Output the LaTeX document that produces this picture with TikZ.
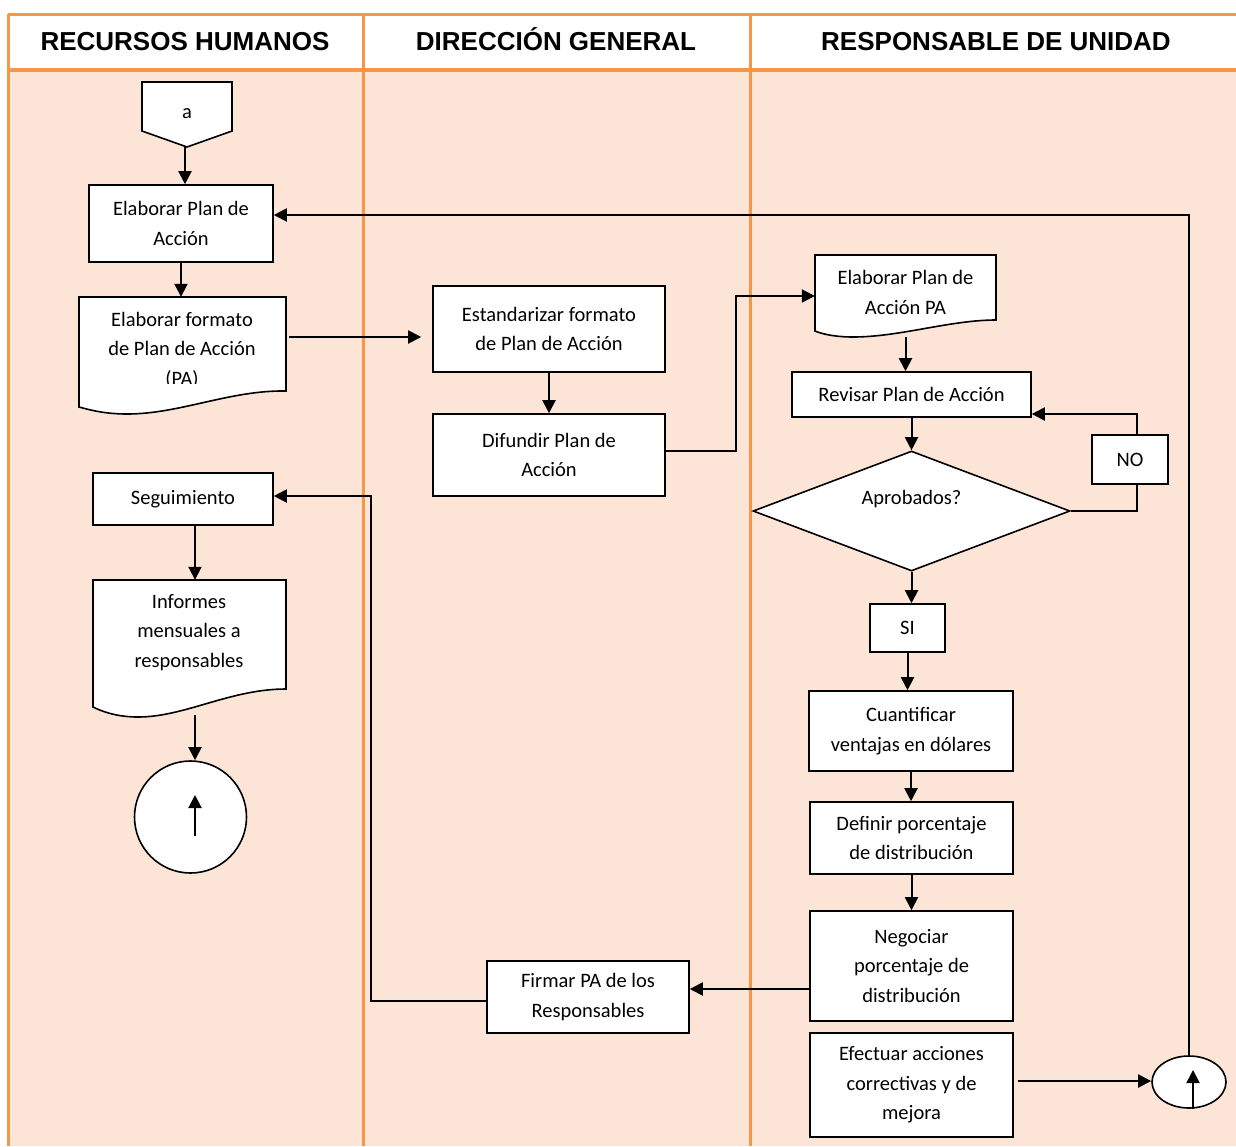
\documentclass[tikz,border=0pt]{standalone}
\usepackage{fontspec}
\setmainfont{Carlito}
\newfontfamily\hdrfont{Liberation Sans}
\usetikzlibrary{arrows.meta,shapes.geometric}
\definecolor{laneorange}{RGB}{247,150,70}
\definecolor{lanefill}{RGB}{252,228,214}
\begin{document}
\begin{tikzpicture}[x=1pt,y=-1pt,
  bodyfont/.style={font=\fontsize{20.5pt}{29.5pt}\selectfont},
  txt/.style={bodyfont,align=center,inner sep=0pt},
  proc/.style={txt,draw=black,line width=1.6pt,fill=white},
  outline/.style={draw=black,line width=1.6pt,fill=white,line join=miter},
  ghost/.style={draw=none,fill=none,inner sep=0pt},
  hdr/.style={font=\hdrfont\bfseries\fontsize{26pt}{30pt}\selectfont,inner sep=0pt,anchor=base},
  lane/.style={draw=laneorange,line width=3pt},
  ln/.style={draw=black,line width=2pt},
  arr/.style={ln,-{Triangle[length=13pt,width=13pt]}}
]
\useasboundingbox (0,0) rectangle (1236,1146);

% swimlane frame
\fill[white] (8,14) rectangle (1236,70);
\fill[lanefill] (8,70) rectangle (1236,1146);
\draw[lane] (8,14) -- (1236,14);
\draw[lane,line width=4pt] (8,70) -- (1236,70);
\draw[lane] (8,14) -- (8,1146);
\draw[lane] (363,14) -- (363,1146);
\draw[lane] (750,14) -- (750,1146);

\node[hdr] (h1) at (185,50) {RECURSOS HUMANOS};
\node[hdr] (h2) at (556,50) {DIRECCIÓN GENERAL};
\node[hdr] (h3) at (996,50) {RESPONSABLE DE UNIDAD};

% ---- Recursos Humanos ----
\draw[outline] (142,82) -- (232,82) -- (232,131) -- (187,147) -- (142,131) -- cycle;
\node[txt] (aconn) at (187,114) {a};
\coordinate (apex) at (185,147);

\node[proc,minimum width=184pt,minimum height=77pt] (ep) at (181,223.5) {Elaborar Plan de\\Acción};

\draw[outline] (79,297) -- (286,297) -- (286,391)
  .. controls (230,390) and (180,414) .. (127,414)
  .. controls (105,414) and (90,410) .. (79,407) -- cycle;
\node[ghost,minimum width=207pt,minimum height=117pt] (efp) at (182.5,355.5) {};
\begin{scope}
  \clip (79,297) rectangle (286,383);
  \node[txt] (efptxt) at (182,350) {Elaborar formato\\de Plan de Acción\\(PA)};
\end{scope}

\node[proc,minimum width=180pt,minimum height=52pt] (seg) at (183,499) {Seguimiento};

\draw[outline] (93,580) -- (286,580) -- (286,689)
  .. controls (230,689) and (185,717) .. (138,717)
  .. controls (118,717) and (103,712) .. (93,707) -- cycle;
\node[ghost,minimum width=193pt,minimum height=137pt] (inf) at (189.5,648.5) {};
\node[txt] (inftxt) at (189,632.5) {Informes\\mensuales a\\responsables};

\node[draw=black,line width=1.6pt,fill=white,circle,minimum size=112pt,inner sep=0pt] (fin) at (190.5,817) {};

% ---- Dirección General ----
\node[proc,minimum width=232pt,minimum height=86pt] (est) at (549,329) {Estandarizar formato\\de Plan de Acción};
\node[proc,minimum width=232pt,minimum height=82pt] (dif) at (549,455) {Difundir Plan de\\Acción};
\node[proc,minimum width=202pt,minimum height=72pt] (firm) at (588,997) {Firmar PA de los\\Responsables};

% ---- Responsable de Unidad ----
\draw[outline] (815,255) -- (996,255) -- (996,320)
  .. controls (950,320) and (900,337) .. (853,337)
  .. controls (835,337) and (822,334) .. (815,331) -- cycle;
\node[ghost,minimum width=181pt,minimum height=82pt] (epa) at (905.5,296) {};
\node[txt] (epatxt) at (905.5,292.5) {Elaborar Plan de\\Acción PA};

\node[proc,minimum width=239pt,minimum height=45pt] (rev) at (911.5,394.5) {Revisar Plan de Acción};
\node[draw=black,line width=1.6pt,fill=white,diamond,minimum width=317pt,minimum height=120pt,inner sep=0pt] (dia) at (911.5,511) {};
\node[txt] (diatxt) at (911.5,499) {Aprobados?};
\node[proc,minimum width=76pt,minimum height=49pt] (no) at (1130,459.5) {NO};
\node[proc,minimum width=75pt,minimum height=48pt] (si) at (907.5,628) {SI};
\node[proc,minimum width=204pt,minimum height=80pt] (cuant) at (911,731) {Cuantificar\\ventajas en dólares};
\node[proc,minimum width=203pt,minimum height=72pt] (def) at (911.5,838) {Definir porcentaje\\de distribución};
\node[proc,minimum width=203pt,minimum height=110pt] (neg) at (911.5,966) {Negociar\\porcentaje de\\distribución};
\node[proc,minimum width=203pt,minimum height=104pt] (efec) at (911.5,1085) {Efectuar acciones\\correctivas y de\\mejora};
\node[draw=black,line width=1.6pt,fill=white,ellipse,minimum width=74pt,minimum height=52pt,inner sep=0pt] (ret) at (1189,1082) {};

% ---- connectors ----
\draw[arr] (apex) -- (apex |- ep.north);
\draw[arr] (ep.south) -- (ep.south |- efp.north);
\coordinate (c1) at ([xshift=3pt,yshift=18.5pt]efp.east);
\draw[arr,shorten >=11pt] (c1) -- (c1 -| est.west);
\draw[arr] (est.south) -- (est.south |- dif.north);
\draw[arr] ([yshift=4pt]dif.east) -- ++(70,0) |- (epa.west);
\draw[arr] (epa.south) -- (epa.south |- rev.north);
\draw[arr] (rev.south) -- (rev.south |- dia.north);
\draw[ln] (dia.east) -| ([xshift=7pt]no.south);
\draw[arr] ([xshift=7pt]no.north) |- ([yshift=-19.5pt]rev.east);
\draw[arr] (dia.south) -- (dia.south |- si.north);
\draw[arr] (si.south) -- (si.south |- cuant.north);
\draw[arr] (cuant.south) -- (cuant.south |- def.north);
\draw[arr] (def.south) -- (def.south |- neg.north);
\coordinate (n1) at ([yshift=-23pt]neg.west);
\draw[arr] (n1) -- (n1 -| firm.east);
\coordinate (f1) at ([yshift=-4pt]firm.west);
\draw[arr] (f1) -- ++(-115,0) |- ([yshift=3pt]seg.east);
\draw[arr] ([xshift=12pt]seg.south) -- ([xshift=12pt]seg.south |- inf.north);
\coordinate (i1) at ([xshift=5.5pt,yshift=2pt]inf.south);
\draw[arr] (i1) -- (i1 |- fin.north);
\draw[arr] ([xshift=4.5pt,yshift=-19pt]fin.center) -- ([xshift=4.5pt,yshift=22pt]fin.center);
\coordinate (e1) at ([xshift=4pt,yshift=4pt]efec.east);
\draw[arr] (e1) -- (e1 -| ret.west);
\draw[arr] ([xshift=4pt]ret.south) -- ([xshift=4pt,yshift=12pt]ret.center);
\draw[arr] (ret.north) |- ([yshift=8.5pt]ep.east);
\end{tikzpicture}
\end{document}
